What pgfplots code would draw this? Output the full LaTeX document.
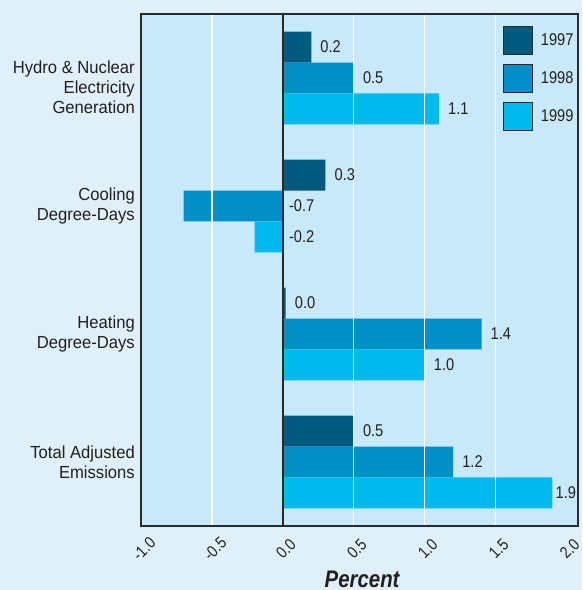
\documentclass[border=0pt]{standalone}
\usepackage{fontspec}
\setmainfont{Liberation Sans}[FakeStretch=0.95]
\newfontfamily\numfont{Liberation Sans}[FakeStretch=0.86]
\newfontfamily\titlefont{Liberation Sans}[FakeStretch=0.85]
\usepackage{pgfplots}
\pgfplotsset{compat=1.18}
\definecolor{bgout}{HTML}{DFF0FA}
\definecolor{bgin}{HTML}{C8E9F9}
\definecolor{frame}{HTML}{2A2A2A}
\definecolor{txt}{HTML}{231F20}
\definecolor{c97}{HTML}{00597F}
\definecolor{c98}{HTML}{008FC6}
\definecolor{c99}{HTML}{00B9EE}

\begin{document}
\begin{tikzpicture}
\useasboundingbox (0pt,0pt) rectangle (582pt,590pt);
\fill[bgout] (0pt,0pt) rectangle (582pt,590pt);
\begin{axis}[
  at={(141pt,64pt)}, anchor=south west,
  scale only axis, width=437pt, height=512pt,
  xbar, bar width=0.242,
  xmin=-1, xmax=2.08,
  ymin=-0.5, ymax=3.5, y dir=reverse,
  axis background/.style={fill=bgin},
  axis line style={draw=frame, line width=1.3pt},
  axis on top,
  tick style={draw=none},
  major tick length=0pt,
  xtick={-1,-0.5,0,0.5,1,1.5,2},
  minor xtick={-0.5,0.5,1,1.5},
  xminorgrids, minor grid style={white, line width=1.2pt},
  /pgf/number format/fixed,
  /pgf/number format/fixed zerofill,
  /pgf/number format/precision=1,
  /pgf/number format/assume math mode=true,
  xticklabel style={anchor=center, xshift=3pt, yshift=-23pt, rotate=45,
    inner sep=0pt, text=txt, font=\numfont\fontsize{16.5}{18}\selectfont},
  ytick={1,2,3},
  yticklabels={{Cooling\\Degree-Days}, {Heating\\Degree-Days}, {Total Adjusted\\Emissions}},
  extra y ticks={0.074},
  extra y tick labels={{Hydro \& Nuclear\\Electricity\\Generation}},
  yticklabel style={align=right, inner sep=0pt, xshift=-6pt, text=txt,
    font=\fontsize{17.5}{20}\selectfont},
  xlabel={\titlefont\bfseries\itshape Percent},
  xlabel style={at={(axis description cs:0.506,0)}, anchor=base, yshift=-61.5pt,
    text=txt, font=\fontsize{24}{26}\selectfont},
  visualization depends on={rawx \as \rawx},
  nodes near coords={\pgfmathprintnumber{\pgfplotspointmeta}},
  every node near coord/.append style={anchor=west, inner sep=0pt, text=txt,
    font=\numfont\fontsize{17}{20}\selectfont,
    xshift={ifthenelse(\rawx<0, 6-\rawx*141.9, ifthenelse(\rawx>1.8, 3, 9))}},
  legend style={draw=none, fill=none, at={(0.828,0.977)}, anchor=north west,
    inner sep=0pt, row sep=9pt, text=txt,
    font=\numfont\fontsize{17}{20}\selectfont,
    nodes={inner ysep=0pt, inner xsep=8pt}},
  legend image code/.code={\draw[#1, draw=frame, line width=0.9pt] (0pt,-14pt) rectangle (29pt,14pt);},
]
\addplot[fill=c97, draw=none, bar shift=-0.242]
  coordinates {(0.2,0) (0.3,1) (0.02,2) (0.5,3)};
\addlegendentry{1997}
\addplot[fill=c98, draw=none, bar shift=0]
  coordinates {(0.5,0) (-0.7,1) (1.4,2) (1.2,3)};
\addlegendentry{1998}
\addplot[fill=c99, draw=none, bar shift=0.242]
  coordinates {(1.1,0) (-0.2,1) (1.0,2) (1.9,3)};
\addlegendentry{1999}
\draw[frame, line width=1.3pt] (axis cs:0,-0.5) -- (axis cs:0,3.5);
\end{axis}
\end{tikzpicture}
\end{document}
